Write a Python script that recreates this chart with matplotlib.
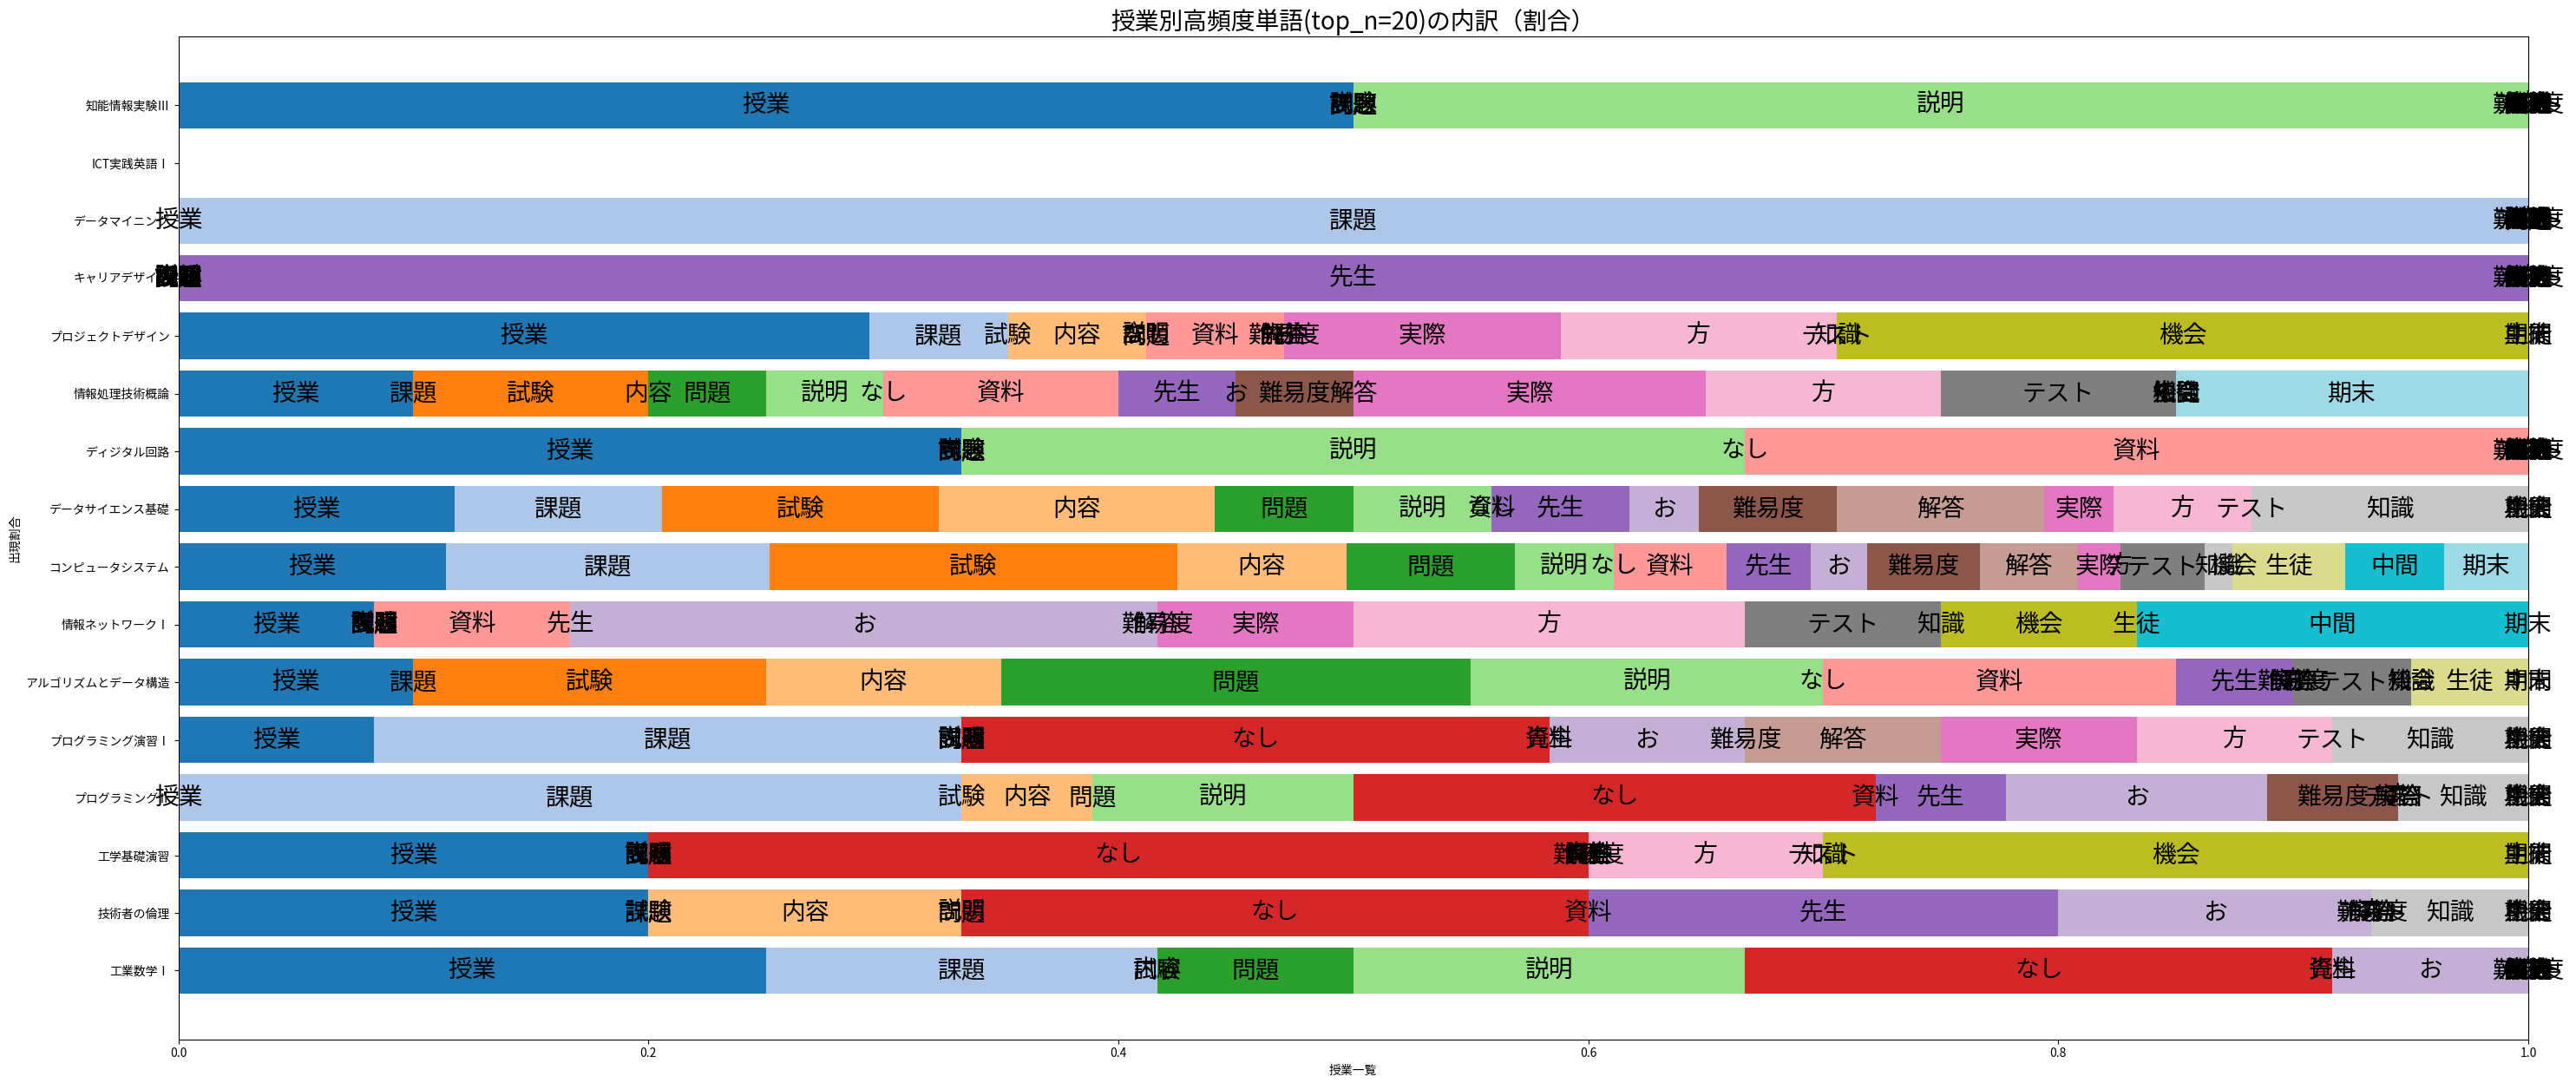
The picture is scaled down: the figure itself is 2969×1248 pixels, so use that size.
import numpy as np
import matplotlib
matplotlib.use("Agg")
import matplotlib.pyplot as plt

plt.rcParams['font.family'] = ['Noto Sans CJK JP', 'DejaVu Sans']

words = ['授業', '課題', '試験', '内容', '問題', '説明', 'なし', '資料', '先生', 'お',
         '難易度', '解答', '実際', '方', 'テスト', '知識', '機会', '生徒', '中間', '期末']

# courses listed top to bottom as shown
courses = ['知能情報実験Ⅲ', 'ICT実践英語Ⅰ', 'データマイニング', 'キャリアデザイン',
           'プロジェクトデザイン', '情報処理技術概論', 'ディジタル回路', 'データサイエンス基礎',
           'コンピュータシステム', '情報ネットワークⅠ', 'アルゴリズムとデータ構造',
           'プログラミング演習Ⅰ', 'プログラミングⅡ', '工学基礎演習', '技術者の倫理', '工業数学Ⅰ']

# word counts per course (same order as words)
c_chino = [1, 0, 0, 0, 0, 1, 0, 0, 0, 0, 0, 0, 0, 0, 0, 0, 0, 0, 0, 0]
c_ict = [0, 0, 0, 0, 0, 0, 0, 0, 0, 0, 0, 0, 0, 0, 0, 0, 0, 0, 0, 0]
c_datamining = [0, 1, 0, 0, 0, 0, 0, 0, 0, 0, 0, 0, 0, 0, 0, 0, 0, 0, 0, 0]
c_career = [0, 0, 0, 0, 0, 0, 0, 0, 1, 0, 0, 0, 0, 0, 0, 0, 0, 0, 0, 0]
c_project = [5, 1, 0, 1, 0, 0, 0, 1, 0, 0, 0, 0, 2, 2, 0, 0, 5, 0, 0, 0]
c_joho = [2, 0, 2, 0, 1, 1, 0, 2, 1, 0, 1, 0, 3, 2, 2, 0, 0, 0, 0, 3]
c_digital = [1, 0, 0, 0, 0, 1, 0, 1, 0, 0, 0, 0, 0, 0, 0, 0, 0, 0, 0, 0]
c_datascience = [4, 3, 4, 4, 2, 2, 0, 0, 2, 1, 2, 3, 1, 2, 0, 4, 0, 0, 0, 0]
c_computer = [19, 23, 29, 12, 12, 7, 0, 8, 6, 4, 8, 7, 3, 0, 6, 2, 0, 8, 7, 6]
c_network = [1, 0, 0, 0, 0, 0, 0, 1, 0, 3, 0, 0, 1, 2, 1, 0, 1, 0, 2, 0]
c_algo = [2, 0, 3, 2, 4, 3, 0, 3, 1, 0, 0, 0, 0, 0, 1, 0, 0, 1, 0, 0]
c_prog1 = [1, 3, 0, 0, 0, 0, 3, 0, 0, 1, 0, 1, 1, 1, 0, 1, 0, 0, 0, 0]
c_prog2 = [0, 6, 0, 1, 0, 2, 4, 0, 1, 2, 1, 0, 0, 0, 0, 1, 0, 0, 0, 0]
c_kisoenshu = [2, 0, 0, 0, 0, 0, 4, 0, 0, 0, 0, 0, 0, 1, 0, 0, 3, 0, 0, 0]
c_rinri = [3, 0, 0, 2, 0, 0, 4, 0, 3, 2, 0, 0, 0, 0, 0, 1, 0, 0, 0, 0]
c_sugaku = [3, 2, 0, 0, 1, 2, 3, 0, 0, 1, 0, 0, 0, 0, 0, 0, 0, 0, 0, 0]

counts = np.array([c_chino, c_ict, c_datamining, c_career, c_project, c_joho, c_digital,
                   c_datascience, c_computer, c_network, c_algo, c_prog1, c_prog2,
                   c_kisoenshu, c_rinri, c_sugaku], dtype=float)

with np.errstate(invalid='ignore', divide='ignore'):
    ratios = counts / counts.sum(axis=1, keepdims=True)

n = len(courses)
ypos = np.arange(n)[::-1]  # first course at the top

fig = plt.figure(figsize=(29.69, 12.48), dpi=100)
ax = fig.add_axes([0.06925, 0.04038, 0.91223, 0.92597])

cmap = plt.get_cmap('tab20')
left = np.zeros(n)
for j, w in enumerate(words):
    vals = ratios[:, j]
    ax.barh(ypos, vals, left=left, height=0.8, color=cmap(j))
    for i in range(n):
        if np.isnan(vals[i]):
            continue
        ax.text(left[i] + vals[i] / 2, ypos[i], w, ha='center', va='center',
                fontsize=20, color='black')
    left = left + vals

ax.set_yticks(ypos)
ax.set_yticklabels(courses)
ax.set_xlim(0, 1)
ax.set_xlabel('授業一覧')
ax.set_ylabel('出現割合')
ax.set_title('授業別高頻度単語(top_n=20)の内訳（割合）', fontsize=20)

fig.savefig('out.png', dpi=100)
